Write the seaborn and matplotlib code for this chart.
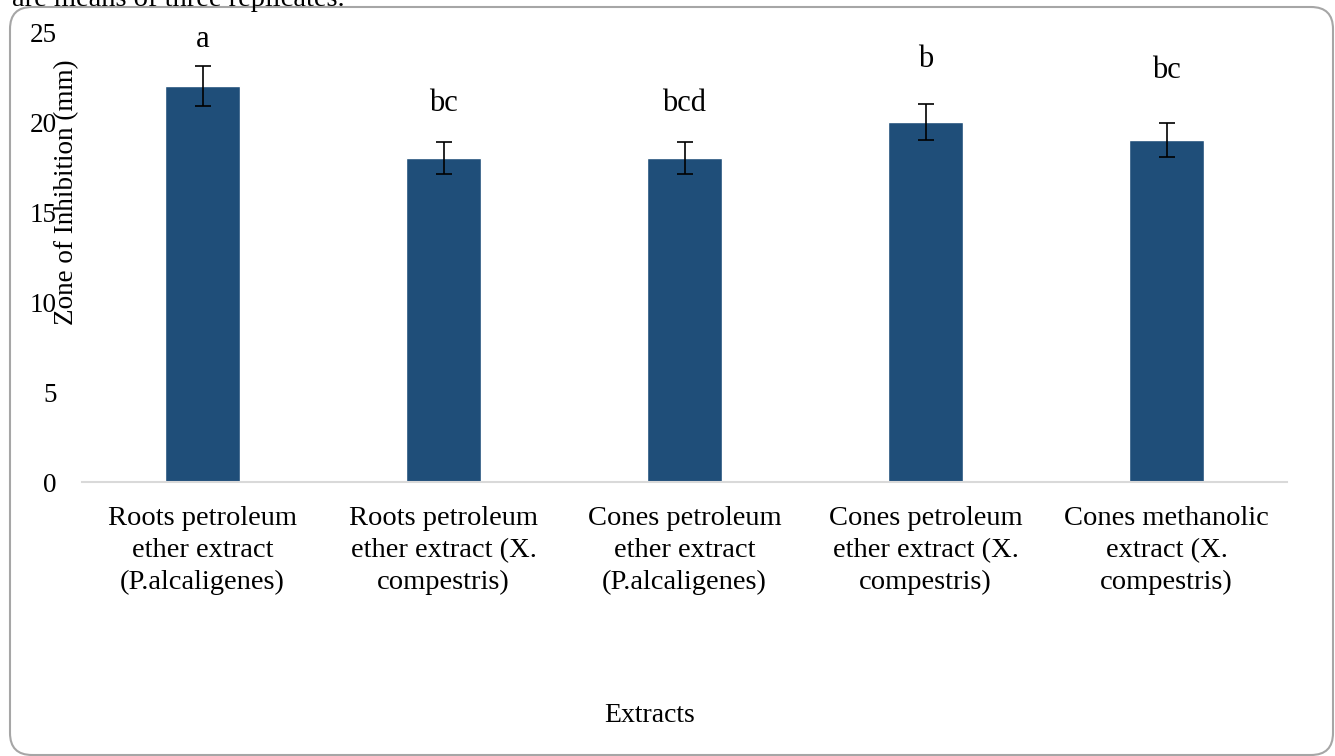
import matplotlib
matplotlib.use("Agg")
import matplotlib.pyplot as plt
import seaborn as sns
from matplotlib.patches import FancyBboxPatch

# Data
extracts = [
    "Roots petroleum\nether extract\n(P.alcaligenes)",
    "Roots petroleum\nether extract (X.\ncompestris)",
    "Cones petroleum\nether extract\n(P.alcaligenes)",
    "Cones petroleum\nether extract (X.\ncompestris)",
    "Cones methanolic\nextract (X.\ncompestris)",
]
zone_mm = [22, 18, 18, 20, 19]
zone_err = [1.1, 0.9, 0.9, 1.0, 0.95]
letters = ["a", "bc", "bcd", "b", "bc"]
letter_y = [24.6, 21.05, 21.05, 23.45, 22.85]

sns.set_style("white")
plt.rcParams["font.family"] = ["Liberation Serif", "DejaVu Serif"]
plt.rcParams["text.color"] = "black"
plt.rcParams["axes.labelcolor"] = "black"
plt.rcParams["xtick.color"] = "black"
plt.rcParams["ytick.color"] = "black"

fig = plt.figure(figsize=(13.35, 7.56), dpi=100)
ax = fig.add_axes([82 / 1335, 1 - 482 / 756, 1205 / 1335, 450 / 756])

sns.barplot(x=extracts, y=zone_mm, color="#1F4E79", width=0.31,
            saturation=1, errorbar=None, ax=ax)
ax.errorbar(range(len(zone_mm)), zone_mm, yerr=zone_err, fmt="none",
            ecolor="black", elinewidth=1.2, capsize=6, capthick=1.2)

for i, (lab, ly) in enumerate(zip(letters, letter_y)):
    ax.text(i, ly, lab, ha="center", va="center", fontsize=22, color="black")

ax.set_ylim(0, 25)
ax.set_xlim(-0.5, len(extracts) - 0.5)
ax.set_yticks([0, 5, 10, 15, 20, 25])
ax.tick_params(axis="y", length=0, pad=18, labelsize=19.5, labelcolor="black")
ax.tick_params(axis="x", length=0, pad=17, labelsize=20.5, labelcolor="black")
for t in ax.get_xticklabels():
    t.set_linespacing(1.38)

for s in ["top", "right", "left"]:
    ax.spines[s].set_visible(False)
ax.spines["bottom"].set_color("#D9D9D9")
ax.spines["bottom"].set_linewidth(1.5)

ax.set_ylabel("Zone of Inhibition (mm)", fontsize=19.5, color="black")
ax.yaxis.set_label_coords(-0.002, 0.644)
ax.set_xlabel("")
fig.text(650 / 1335, 1 - 716 / 756, "Extracts", ha="center", va="center",
         fontsize=20, color="black")

# caption line cut off by the top edge
fig.text(12 / 1335, 1 - 6 / 756, "are means of three replicates.", ha="left",
         va="baseline", fontsize=20.5, color="black")

# rounded chart border
border = FancyBboxPatch((0.10, 0.01), 13.23, 7.48,
                        boxstyle="round,pad=0,rounding_size=0.22",
                        transform=fig.dpi_scale_trans, fill=False,
                        edgecolor="#A6A6A6", linewidth=1.5)
fig.patches.append(border)

fig.savefig("out.png", dpi=100)
